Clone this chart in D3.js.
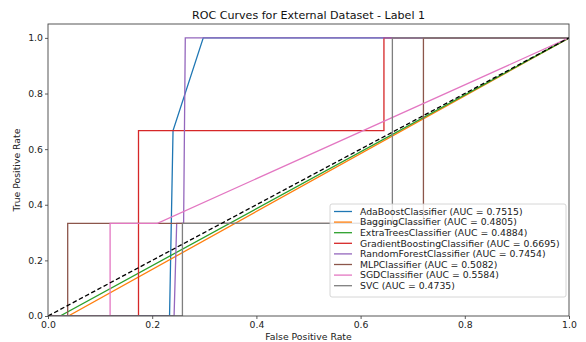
<!DOCTYPE html>
<html>
<head>
<meta charset="utf-8">
<script src="https://cdn.jsdelivr.net/npm/d3@7"></script>
<style>
  html, body { margin: 0; padding: 0; background: #fff; }
  svg { display: block; font-family: "DejaVu Sans", sans-serif; }
</style>
</head>
<body>
<svg id="chart" width="586" height="342"></svg>
<script>
// ROC curve points for each classifier: [false positive rate, true positive rate]
const modelNames = [
  "AdaBoostClassifier", "BaggingClassifier", "ExtraTreesClassifier",
  "GradientBoostingClassifier", "RandomForestClassifier", "MLPClassifier",
  "SGDClassifier", "SVC"
];
const aucValues = [0.7515, 0.4805, 0.4884, 0.6695, 0.7454, 0.5082, 0.5584, 0.4735];
const adaBoostRoc = [[0, 0], [0.2333, 0], [0.2400, 0.6667], [0.2980, 1], [1, 1]];
const baggingRoc = [[0, 0], [0.039, 0], [1, 1]];
const extraTreesRoc = [[0, 0], [0.0232, 0], [1, 1]];
const gradBoostRoc = [[0, 0], [0.1737, 0], [0.1737, 0.6667], [0.6448, 0.6667], [0.6448, 1], [1, 1]];
const randomForestRoc = [[0, 0], [0.2420, 0], [0.2470, 0.3333], [0.2603, 0.3333], [0.2635, 1], [1, 1]];
const mlpRoc = [[0, 0], [0.0378, 0], [0.0378, 0.3333], [0.7206, 0.3333], [0.7206, 1], [1, 1]];
const sgdRoc = [[0, 0], [0.1192, 0], [0.1192, 0.3333], [0.2100, 0.3333], [1, 1]];
const svcRoc = [[0, 0], [0.2580, 0], [0.2580, 0.3333], [0.6610, 0.3333], [0.6610, 1], [1, 1]];
const chanceLine = [[0, 0], [1, 1]];
const xTicks = [0, 0.2, 0.4, 0.6, 0.8, 1.0];
const yTicks = [0, 0.2, 0.4, 0.6, 0.8, 1.0];
const colors = ["#1f77b4", "#ff7f0e", "#2ca02c", "#d62728", "#9467bd", "#8c564b", "#e377c2", "#7f7f7f"];

const curves = [adaBoostRoc, baggingRoc, extraTreesRoc, gradBoostRoc,
                randomForestRoc, mlpRoc, sgdRoc, svcRoc];

const svg = d3.select("#chart");
const margin = { left: 48, right: 17, top: 24, bottom: 26 };
const W = 586, H = 342;
const x = d3.scaleLinear().domain([0, 1]).range([margin.left, W - margin.right]);
const y = d3.scaleLinear().domain([0, 1.05]).range([H - margin.bottom, margin.top]);

const line = d3.line().x(d => x(d[0])).y(d => y(d[1]));
const fs = 9.3;

// clip curves to the axes box
svg.append("clipPath").attr("id", "plotClip")
  .append("rect")
  .attr("x", x(0)).attr("y", y(1.05))
  .attr("width", x(1) - x(0)).attr("height", y(0) - y(1.05));

const plot = svg.append("g").attr("clip-path", "url(#plotClip)");

curves.forEach((c, i) => {
  plot.append("path")
    .datum(c)
    .attr("d", line)
    .attr("fill", "none")
    .attr("stroke", colors[i])
    .attr("stroke-width", 1.3);
});

plot.append("path")
  .datum(chanceLine)
  .attr("d", line)
  .attr("fill", "none")
  .attr("stroke", "#000")
  .attr("stroke-width", 1.3)
  .attr("stroke-dasharray", "4.5,2.5");

// axes
const xAxis = d3.axisBottom(x).tickValues(xTicks).tickFormat(d3.format(".1f")).tickSize(3).tickPadding(2);
const yAxis = d3.axisLeft(y).tickValues(yTicks).tickFormat(d3.format(".1f")).tickSize(3).tickPadding(2);

const gx = svg.append("g").attr("transform", `translate(0,${y(0)})`).call(xAxis);
const gy = svg.append("g").attr("transform", `translate(${x(0)},0)`).call(yAxis);
[gx, gy].forEach(g => {
  g.select(".domain").remove();
  g.selectAll("text").attr("font-family", "DejaVu Sans").attr("font-size", fs).attr("fill", "#222");
  g.selectAll("line").attr("stroke", "#333").attr("stroke-width", 0.8);
});

// frame
svg.append("rect")
  .attr("x", x(0)).attr("y", y(1.05))
  .attr("width", x(1) - x(0)).attr("height", y(0) - y(1.05))
  .attr("fill", "none").attr("stroke", "#444").attr("stroke-width", 0.9);

// titles
svg.append("text")
  .attr("x", (x(0) + x(1)) / 2).attr("y", 19)
  .attr("text-anchor", "middle").attr("font-size", 11.1).attr("fill", "#111")
  .text("ROC Curves for External Dataset - Label 1");

svg.append("text")
  .attr("x", (x(0) + x(1)) / 2).attr("y", 340)
  .attr("text-anchor", "middle").attr("font-size", fs).attr("fill", "#222")
  .text("False Positive Rate");

svg.append("text")
  .attr("transform", `translate(20,${(y(0) + y(1.05)) / 2}) rotate(-90)`)
  .attr("text-anchor", "middle").attr("font-size", fs).attr("fill", "#222")
  .text("True Positive Rate");

// legend
const legend = svg.append("g").attr("transform", "translate(330,204)");
legend.append("rect")
  .attr("x", 0).attr("y", 0).attr("width", 236).attr("height", 93)
  .attr("rx", 2).attr("fill", "#fff").attr("fill-opacity", 0.8)
  .attr("stroke", "#ccc").attr("stroke-width", 0.8);

modelNames.forEach((name, i) => {
  const ry = 7.5 + i * 10.6;
  legend.append("line")
    .attr("x1", 4).attr("x2", 22).attr("y1", ry).attr("y2", ry)
    .attr("stroke", colors[i]).attr("stroke-width", 1.3);
  legend.append("text")
    .attr("x", 30).attr("y", ry + 3.3)
    .attr("font-size", fs).attr("fill", "#222")
    .text(`${name} (AUC = ${aucValues[i].toFixed(4)})`);
});
</script>
</body>
</html>
